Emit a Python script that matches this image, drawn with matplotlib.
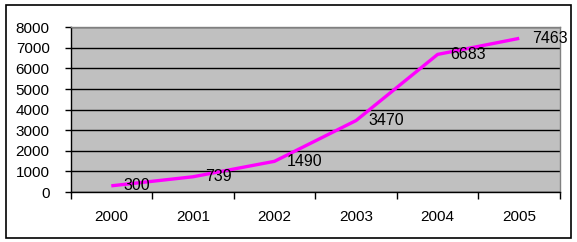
import matplotlib
matplotlib.use("Agg")
import matplotlib.pyplot as plt
from matplotlib.patches import Rectangle

years = ["2000", "2001", "2002", "2003", "2004", "2005"]
values = [300, 739, 1490, 3470, 6683, 7463]
yticks = [0, 1000, 2000, 3000, 4000, 5000, 6000, 7000, 8000]

plt.rcParams['font.family'] = ['Liberation Sans', 'DejaVu Sans']

fig = plt.figure(figsize=(5.77, 2.42), dpi=100)
fig.patch.set_facecolor('white')
fig.patches.append(Rectangle((5.5/577, 4.5/242), 565.5/577, 233/242, transform=fig.transFigure,
                             fill=False, edgecolor='black', linewidth=1.2, zorder=0))

ax = fig.add_axes([70.5/577, 50/242, 489.5/577, 164.7/242])
ax.set_facecolor('#C0C0C0')

x = list(range(len(years)))
ax.plot(x, values, color='#FF00FF', linewidth=2.4, solid_capstyle='butt', zorder=3)

for xi, v in zip(x, values):
    ax.annotate(str(v), (xi, v), xytext=(9, 0), textcoords='offset points',
                ha='left', va='center', fontsize=11.5, color='black', zorder=4,
                annotation_clip=False)

ax.set_xlim(-0.5, len(years) - 0.5)
ax.set_ylim(0, 8000)
ax.set_yticks(yticks)
ax.set_yticklabels([str(t) for t in yticks], fontsize=11)
ax.yaxis.grid(True, color='black', linewidth=1)
ax.set_axisbelow(True)

ax.set_xticks([i + 0.5 for i in range(-1, len(years))])
ax.set_xticklabels([])
ax.set_xticks(x, minor=True)
ax.set_xticklabels(years, minor=True, fontsize=11)
ax.tick_params(axis='x', which='minor', length=0, pad=13)
ax.tick_params(axis='x', which='major', length=5, width=1, direction='out')
ax.tick_params(axis='y', length=4, width=1, direction='out', pad=11)

ax.spines['left'].set_color('black')
ax.spines['bottom'].set_color('black')
ax.spines['top'].set_color('#808080')
ax.spines['right'].set_color('#808080')
for s in ax.spines.values():
    s.set_linewidth(1)

fig.savefig('out.png', dpi=100)
